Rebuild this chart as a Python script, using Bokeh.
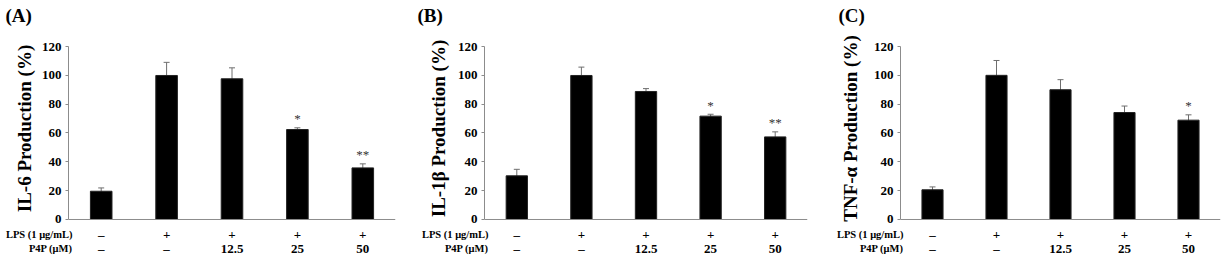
from bokeh.plotting import figure
from bokeh.models import Range1d, FactorRange, FixedTicker, Span, Whisker, ColumnDataSource, TeeHead
from bokeh.layouts import row, column
from bokeh.core.properties import value
from bokeh.embed import file_html
from bokeh.resources import INLINE

# ---------------- data ----------------
groups = ["Control", "LPS", "LPS+P4P 12.5", "LPS+P4P 25", "LPS+P4P 50"]
lps_header = "LPS (1 \u03bcg/mL)"
p4p_header = "P4P (\u03bcM)"
lps_row = ["\u2013", "+", "+", "+", "+"]
p4p_row = ["\u2013", "\u2013", "12.5", "25", "50"]
y_ticks = [0, 20, 40, 60, 80, 100, 120]

il6_mean = [19.6, 99.9, 97.6, 62.4, 35.8]
il6_err = [2.3, 9.1, 7.6, 1.2, 2.8]
il6_sig = ["", "", "", "*", "**"]

il1b_mean = [30.3, 99.9, 88.8, 71.7, 57.3]
il1b_err = [4.5, 5.8, 2.0, 1.3, 3.5]
il1b_sig = ["", "", "", "*", "**"]

tnf_mean = [20.6, 100.0, 90.0, 74.2, 68.9]
tnf_err = [2.0, 10.3, 7.0, 4.5, 3.7]
tnf_sig = ["", "", "", "", "*"]

FONT = "Liberation Serif"
AXIS_GREY = "#8c8c8c"
ERR_GREY = "#6e6e6e"

TITLE_H, MAIN_H, ROWS_H = 30, 196, 34


def blank(width, height, xr, yr):
    f = figure(width=width, height=height, output_backend="svg", toolbar_location=None,
               x_range=xr, y_range=yr, x_axis_location=None, y_axis_location=None,
               min_border=0, min_border_left=0, min_border_right=0,
               min_border_top=0, min_border_bottom=0, frame_align=False)
    f.outline_line_color = None
    f.grid.visible = False
    return f


def panel(tag, ylabel, mean, err, sig, width, left, right, title_x, head_dx, label_standoff):
    n = len(groups)
    ppu = (width - left - right) / n  # pixels per category

    # ---- title strip ----
    t = blank(width, TITLE_H, Range1d(0, width), Range1d(0, TITLE_H))
    t.text(x=[title_x], y=[TITLE_H - 14.5], text=[tag], text_align="left", text_baseline="middle",
           text_font=value(FONT), text_font_style="bold", text_font_size="19px", text_color="black")

    # ---- main chart ----
    src = ColumnDataSource(dict(
        g=groups, m=mean,
        up=[a + b for a, b in zip(mean, err)],
        lo=[a - b for a, b in zip(mean, err)],
        star_y=[a + b + 1.2 for a, b in zip(mean, err)],
        sig=sig,
    ))
    p = figure(width=width, height=MAIN_H, output_backend="svg", toolbar_location=None,
               x_range=FactorRange(factors=groups, range_padding=0),
               y_range=Range1d(-4.86, 131.1), x_axis_location=None,
               min_border_left=left, min_border_right=right,
               min_border_top=0, min_border_bottom=0, frame_align=False)
    p.outline_line_color = None
    p.grid.visible = False

    ax = p.yaxis[0]
    ax.ticker = FixedTicker(ticks=y_ticks)
    ax.bounds = (y_ticks[0], y_ticks[-1])
    ax.axis_line_color = AXIS_GREY
    ax.major_tick_line_color = AXIS_GREY
    ax.major_tick_out = 3
    ax.major_tick_in = 0
    ax.minor_tick_line_color = None
    ax.major_label_text_font = FONT
    ax.major_label_text_font_style = "bold"
    ax.major_label_text_font_size = "13px"
    ax.major_label_text_color = "black"
    ax.major_label_standoff = 4
    ax.axis_label = ylabel
    ax.axis_label_text_font = FONT
    ax.axis_label_text_font_style = "bold"
    ax.axis_label_text_font_size = "19px"
    ax.axis_label_text_color = "black"
    ax.axis_label_standoff = label_standoff

    p.add_layout(Span(location=0, dimension="width", line_color=AXIS_GREY, line_width=1))

    p.vbar(x="g", top="m", width=0.33, source=src, fill_color="black", line_color="#222222")
    p.add_layout(Whisker(base="g", upper="up", lower="lo", source=src,
                         line_color=ERR_GREY, line_width=1,
                         upper_head=TeeHead(size=6, line_color=ERR_GREY, line_width=1),
                         lower_head=TeeHead(size=6, line_color=ERR_GREY, line_width=1)))
    p.text(x="g", y="star_y", text="sig", source=src, text_align="center", text_baseline="bottom",
           text_font=value(FONT), text_font_size="13px", text_color="#333333")

    # ---- condition rows (same horizontal mapping as the chart) ----
    r = blank(width, ROWS_H, Range1d(-left / ppu, n + right / ppu), Range1d(0, ROWS_H))
    xs = [i + 0.5 for i in range(n)]
    lps_y, p4p_y = ROWS_H - 8, ROWS_H - 22
    r.text(x=xs, y=[lps_y] * n, text=lps_row, text_align="center", text_baseline="middle",
           text_font=value(FONT), text_font_style="bold", text_font_size="13px", text_color="black")
    r.text(x=xs, y=[p4p_y] * n, text=p4p_row, text_align="center", text_baseline="middle",
           text_font=value(FONT), text_font_style="bold", text_font_size="13px", text_color="black")
    r.text(x=[head_dx / ppu] * 2, y=[lps_y, p4p_y], text=[lps_header, p4p_header],
           text_align="right", text_baseline="middle",
           text_font=value(FONT), text_font_style="bold", text_font_size="10.5px", text_color="black")

    return column(t, p, r, spacing=0)


pa = panel("(A)", "IL-6 Production (%)", il6_mean, il6_err, il6_sig,
           414, 68, 19, 5, 4, 4)
pb = panel("(B)", "IL-1\u03b2 Production (%)", il1b_mean, il1b_err, il1b_sig,
           416, 70, 23, 3, 4, 6)
pc = panel("(C)", "TNF-\u03b1 Production (%)", tnf_mean, tnf_err, tnf_sig,
           399, 70, 9, 8, 3, 10)

layout = row(pa, pb, pc, spacing=0)
open("out.html", "w").write(file_html(layout, INLINE))
